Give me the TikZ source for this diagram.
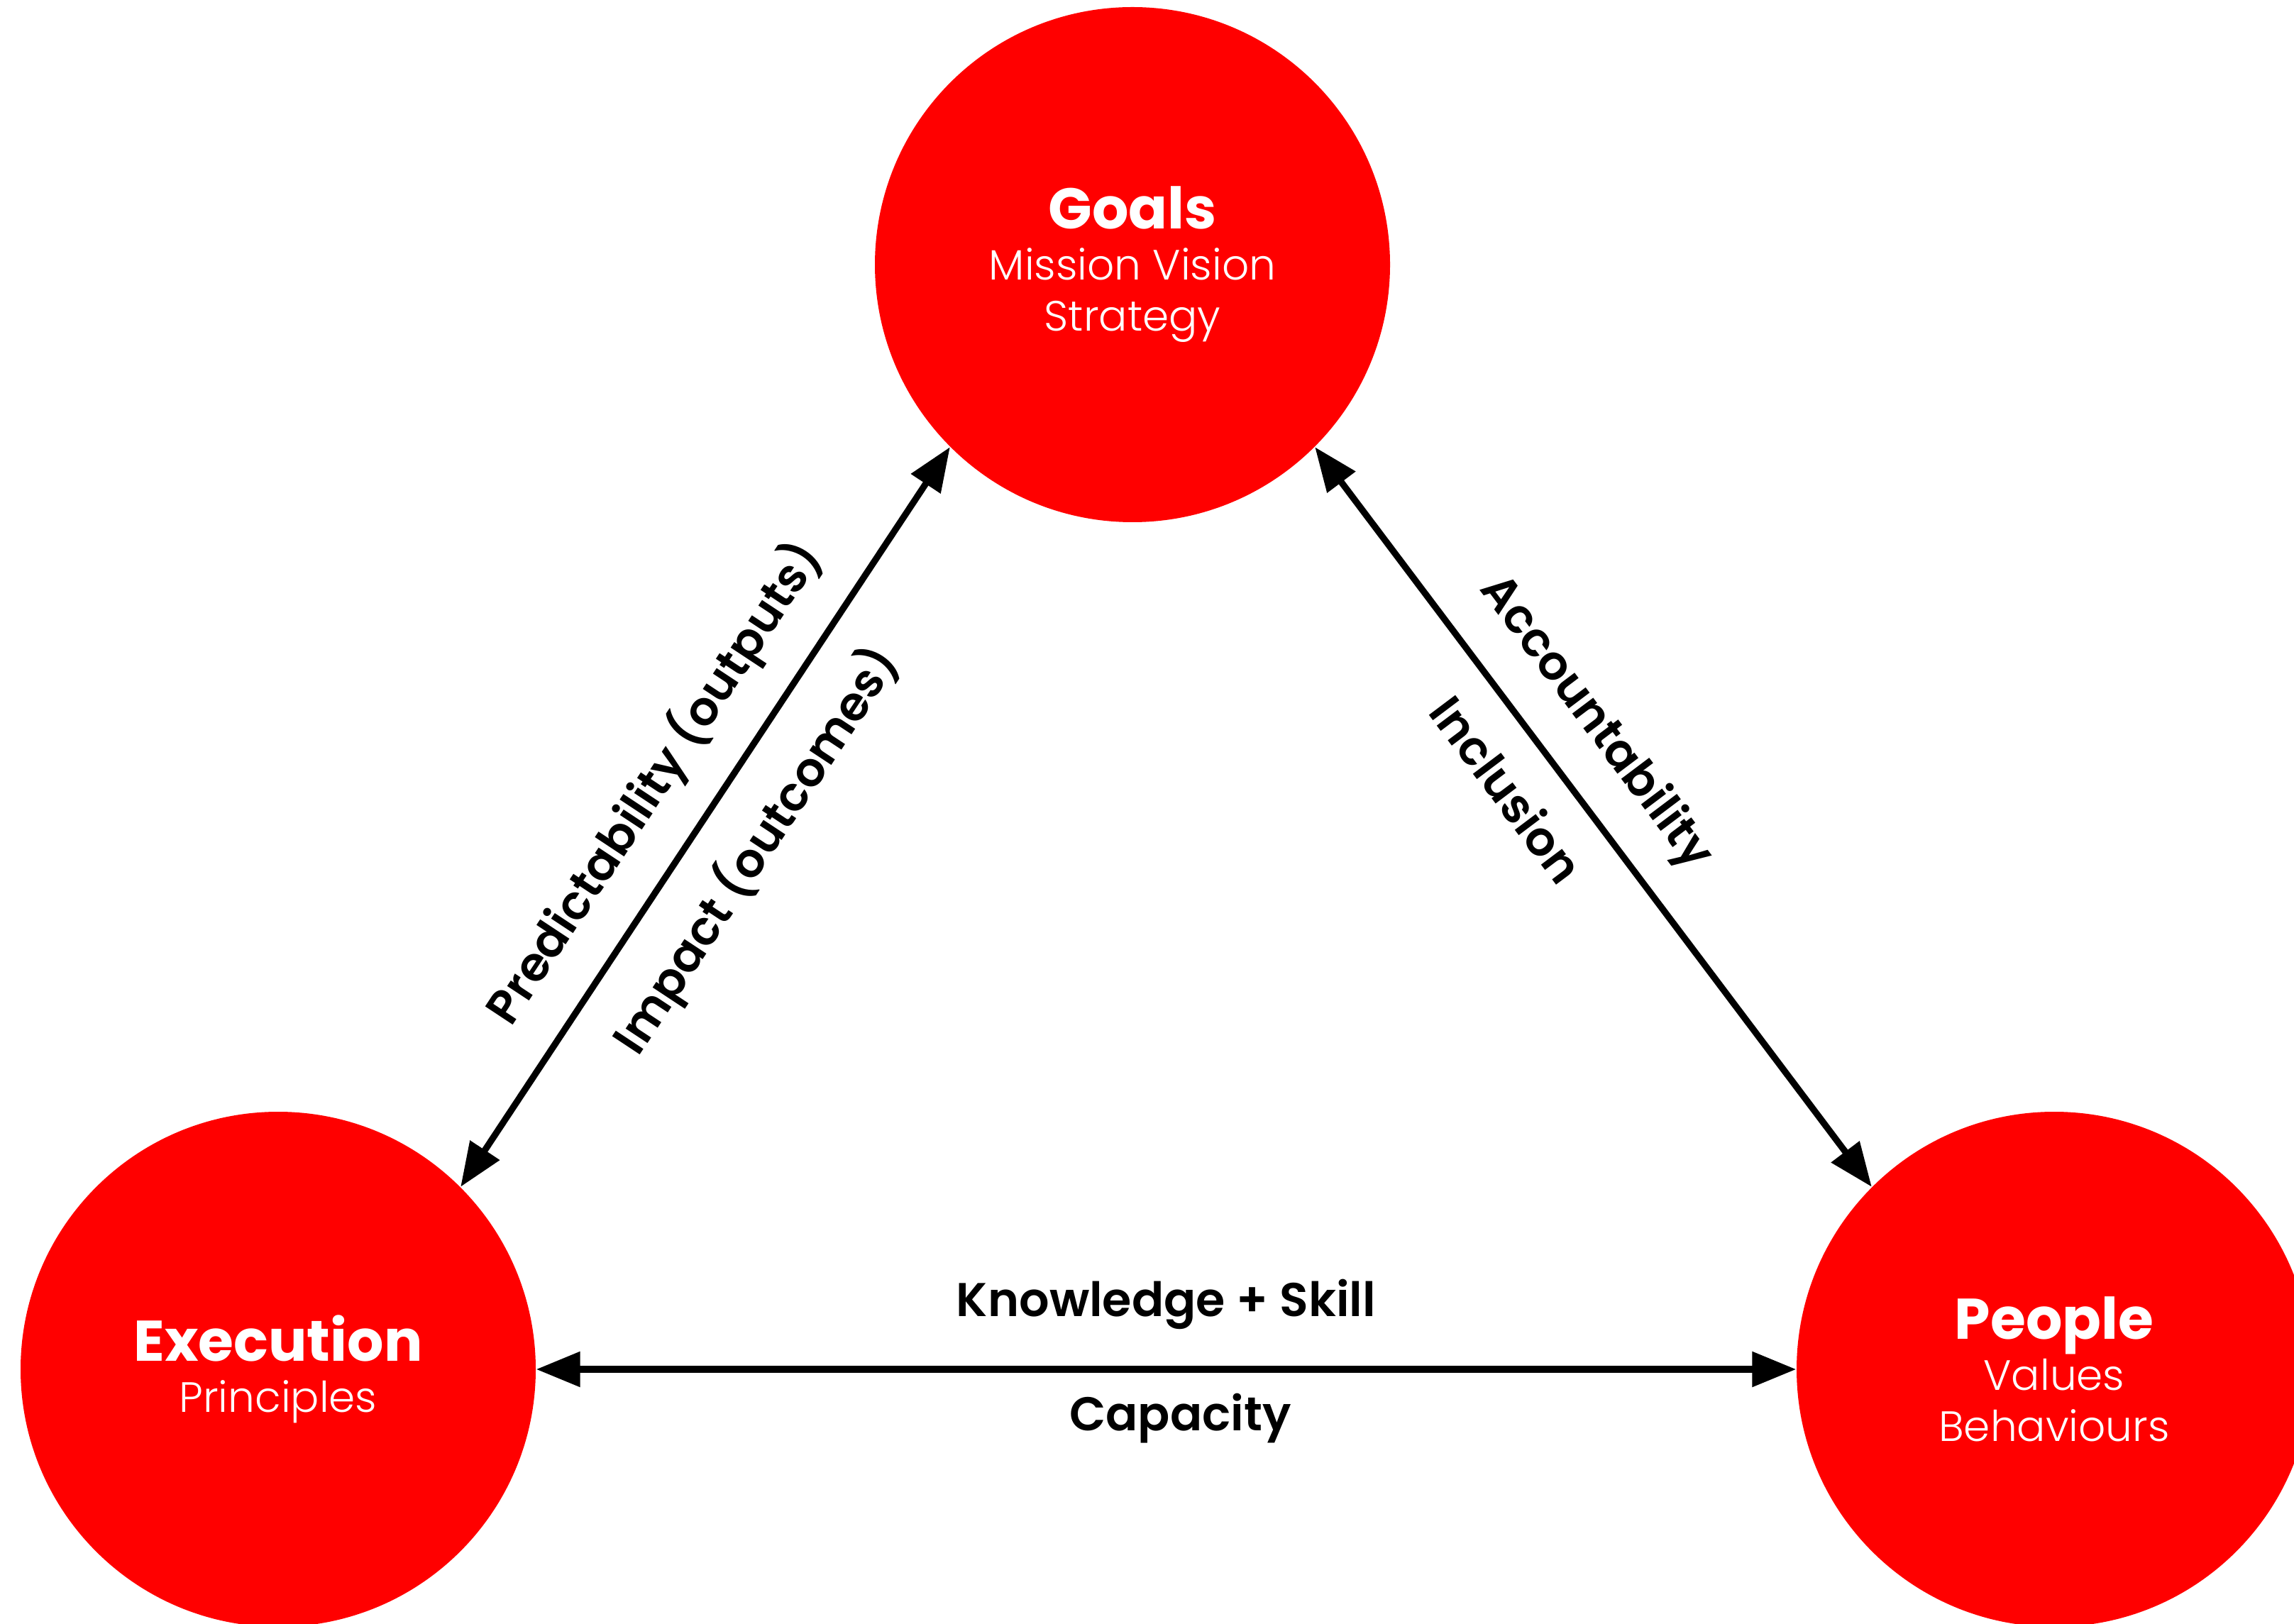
\documentclass[tikz,border=0pt]{standalone}
\usepackage{fontspec}
\setmainfont{Poppins}
\newfontfamily\lightfont{Poppins Light}
\newfontfamily\semifont{Poppins SemiBold}
\usepackage{xcolor}
\usetikzlibrary{arrows.meta,positioning}

\begin{document}
\begin{tikzpicture}[
  pillar/.style={circle, fill=red, text=white, minimum size=7.26cm,
    inner sep=0pt, align=center, font=\lightfont\fontsize{17}{20.5}\selectfont},
  arrow/.style={{Triangle[length=0.62cm,width=0.48cm]}-{Triangle[length=0.62cm,width=0.48cm]},
    line width=2.6pt},
  lbl/.style={font=\semifont\fontsize{19}{22}\selectfont, sloped, inner sep=0pt}
]
\useasboundingbox (0,0) rectangle (32.33,22.88);
\node[pillar] (G) at (15.96,19.15)
  {{\normalfont\bfseries\fontsize{23}{21}\selectfont Goals}\\Mission Vision\\Strategy};
\node[pillar] (E) at (3.92,3.58)
  {{\normalfont\bfseries\fontsize{23}{21}\selectfont Execution}\\Principles};
\node[pillar] (P) at (28.95,3.58)
  {{\normalfont\bfseries\fontsize{23}{21}\selectfont People}\\Values\\Behaviours};
\draw[arrow] (E.45)--(G.225)
  node[lbl, midway, above=0.42cm] {Predictability (outputs)}
  node[lbl, midway, below=0.42cm] {Impact (outcomes)};
\draw[arrow] (G.-45)--(P.135)
  node[lbl, pos=0.42, above=0.42cm] {Accountability}
  node[lbl, pos=0.42, below=0.42cm] {Inclusion};
\draw[arrow] (E)--(P)
  node[lbl, midway, above=0.52cm] {Knowledge + Skill}
  node[lbl, midway, below=0.3cm, xshift=0.2cm] {Capacity};
\end{tikzpicture}
\end{document}
